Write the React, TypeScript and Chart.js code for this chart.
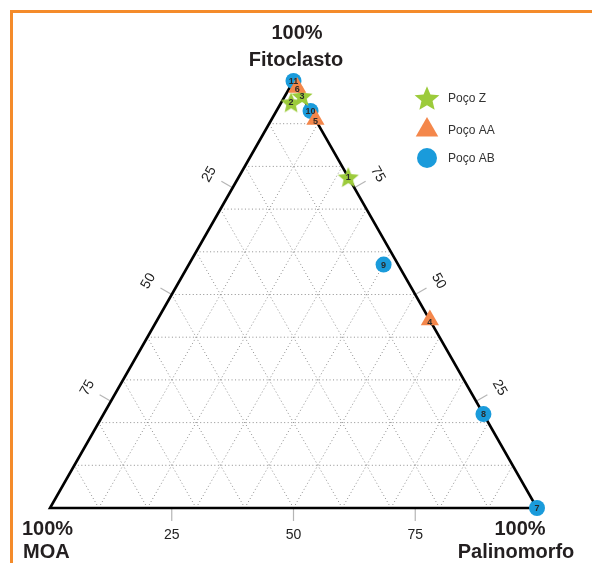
import React, { useEffect, useRef } from 'react';
import { Chart, registerables } from 'chart.js';

Chart.register(...registerables);

// ---- data (ternary percentages) ----
const wellNames = ['Poço Z', 'Poço AA', 'Poço AB'];

const zIds = ['1', '2', '3'];
const zFito = [77.5, 95, 96.5];
const zPal = [22.5, 2, 3.5];
const zMoa = [0, 3, 0];

const aaIds = ['4', '5', '6'];
const aaFito = [44, 91, 98.5];
const aaPal = [56, 9, 1.5];
const aaMoa = [0, 0, 0];

const abIds = ['7', '8', '9', '10', '11'];
const abFito = [0, 22, 57, 93, 100];
const abPal = [100, 78, 40, 7, 0];
const abMoa = [0, 0, 3, 0, 0];

const gridSteps = [10, 20, 30, 40, 50, 60, 70, 80, 90];
const tickValues = [25, 50, 75];
const cornerPercent = '100%';
const cornerTop = 'Fitoclasto';
const cornerLeft = 'MOA';
const cornerRight = 'Palinomorfo';

const GREEN = '#9CCB3B';
const ORANGE = '#F4874B';
const BLUE = '#1A9BDB';
const TEXT = '#231F20';

function toXY(fito: number[], pal: number[], moa: number[]) {
  return fito.map((f, i) => {
    const s = f + pal[i] + moa[i];
    const F = (f / s) * 100;
    const P = (pal[i] / s) * 100;
    return { x: P + F / 2, y: F };
  });
}

function makeStar(outer: number, color: string): HTMLCanvasElement {
  const c = document.createElement('canvas');
  const size = Math.ceil(outer * 2 + 2);
  c.width = size;
  c.height = size;
  const g = c.getContext('2d')!;
  const cx = size / 2;
  const cy = size / 2 + outer * 0.1;
  const inner = outer * 0.45;
  g.beginPath();
  for (let i = 0; i < 10; i++) {
    const r = i % 2 === 0 ? outer : inner;
    const a = -Math.PI / 2 + (i * Math.PI) / 5;
    const px = cx + Math.cos(a) * r;
    const py = cy + Math.sin(a) * r;
    if (i === 0) g.moveTo(px, py);
    else g.lineTo(px, py);
  }
  g.closePath();
  g.fillStyle = color;
  g.fill();
  return c;
}

const legendStar = makeStar(13, GREEN);

const ternaryPlugin = {
  id: 'ternary',
  beforeDatasetsDraw(chart: any) {
    const ctx = chart.ctx;
    const xs = chart.scales.x;
    const ys = chart.scales.y;
    const px = (F: number, P: number): [number, number] => [
      xs.getPixelForValue(P + F / 2),
      ys.getPixelForValue(F),
    ];
    ctx.save();
    // dotted grid
    ctx.strokeStyle = '#8f8f8f';
    ctx.lineWidth = 1;
    ctx.setLineDash([1, 2.5]);
    const line = (a: [number, number], b: [number, number]) => {
      ctx.beginPath();
      ctx.moveTo(a[0], a[1]);
      ctx.lineTo(b[0], b[1]);
      ctx.stroke();
    };
    gridSteps.forEach((v) => {
      line(px(v, 0), px(v, 100 - v));
      line(px(0, v), px(100 - v, v));
      line(px(0, 100 - v), px(100 - v, 0));
    });
    ctx.setLineDash([]);

    // tick marks + labels
    const tickLen = 13;
    const labDist = 27;
    ctx.strokeStyle = '#b5b5b5';
    ctx.lineWidth = 1.2;
    ctx.fillStyle = '#222';
    ctx.font = '14px "Liberation Sans", Arial, sans-serif';
    ctx.textAlign = 'center';
    ctx.textBaseline = 'middle';
    tickValues.forEach((t) => {
      // bottom: Palinomorfo
      const b = px(0, t);
      line(b, [b[0], b[1] + tickLen]);
      ctx.fillText(String(t), b[0], b[1] + labDist);
      // left: MOA
      const l = px(100 - t, 0);
      const nl = [-Math.sqrt(3) / 2, -0.5];
      line(l, [l[0] + nl[0] * tickLen, l[1] + nl[1] * tickLen]);
      ctx.save();
      ctx.translate(l[0] + nl[0] * labDist, l[1] + nl[1] * labDist);
      ctx.rotate(-Math.PI / 3);
      ctx.fillText(String(t), 0, 0);
      ctx.restore();
      // right: Fitoclasto
      const r = px(t, 100 - t);
      const nr = [Math.sqrt(3) / 2, -0.5];
      line(r, [r[0] + nr[0] * tickLen, r[1] + nr[1] * tickLen]);
      ctx.save();
      ctx.translate(r[0] + nr[0] * labDist, r[1] + nr[1] * labDist);
      ctx.rotate(Math.PI / 3);
      ctx.fillText(String(t), 0, 0);
      ctx.restore();
    });

    // triangle edges
    ctx.strokeStyle = '#000';
    ctx.lineWidth = 2.6;
    ctx.lineJoin = 'miter';
    const A = px(100, 0);
    const B = px(0, 0);
    const C = px(0, 100);
    ctx.beginPath();
    ctx.moveTo(A[0], A[1]);
    ctx.lineTo(B[0], B[1]);
    ctx.lineTo(C[0], C[1]);
    ctx.closePath();
    ctx.stroke();
    ctx.restore();
  },
  afterDatasetsDraw(chart: any) {
    const ctx = chart.ctx;
    ctx.save();
    ctx.fillStyle = '#2a2a2a';
    ctx.font = 'bold 9px "Liberation Sans", Arial, sans-serif';
    ctx.textAlign = 'center';
    ctx.textBaseline = 'middle';
    chart.data.datasets.forEach((ds: any, i: number) => {
      const meta = chart.getDatasetMeta(i);
      meta.data.forEach((el: any, j: number) => {
        const dy = ds.label === 'Poço AA' ? 2 : 0.5;
        ctx.fillText(ds.ids[j], el.x, el.y + dy);
      });
    });
    ctx.restore();
  },
  afterDraw(chart: any) {
    const ctx = chart.ctx;
    ctx.save();
    ctx.fillStyle = TEXT;
    ctx.font = 'bold 20px "Liberation Sans", Arial, sans-serif';
    ctx.textBaseline = 'alphabetic';
    ctx.textAlign = 'center';
    ctx.fillText(cornerPercent, 297, 39);
    ctx.fillText(cornerTop, 296, 66);
    ctx.textAlign = 'left';
    ctx.fillText(cornerPercent, 22, 535);
    ctx.fillText(cornerLeft, 23, 558);
    ctx.textAlign = 'center';
    ctx.fillText(cornerPercent, 520, 535);
    ctx.fillText(cornerRight, 516, 558);

    // legend
    const lx = 427;
    const rows = [98, 130, 158];
    ctx.drawImage(legendStar, lx - legendStar.width / 2, rows[0] - legendStar.height / 2);
    const tr = 13;
    ctx.fillStyle = ORANGE;
    ctx.beginPath();
    ctx.moveTo(lx, rows[1] - tr);
    ctx.lineTo(lx + tr * Math.sin((2 * Math.PI) / 3), rows[1] + tr / 2);
    ctx.lineTo(lx - tr * Math.sin((2 * Math.PI) / 3), rows[1] + tr / 2);
    ctx.closePath();
    ctx.fill();
    ctx.fillStyle = BLUE;
    ctx.beginPath();
    ctx.arc(lx, rows[2], 10, 0, Math.PI * 2);
    ctx.fill();
    ctx.fillStyle = '#333';
    ctx.font = '12px "Liberation Sans", Arial, sans-serif';
    ctx.textAlign = 'left';
    ctx.textBaseline = 'middle';
    wellNames.forEach((n, i) => ctx.fillText(n, 448, rows[i] + 1));
    ctx.restore();
  },
};

export default function App() {
  const ref = useRef<HTMLCanvasElement>(null);
  useEffect(() => {
    if (!ref.current) return;
    const star = makeStar(11, GREEN);
    const chart = new Chart(ref.current, {
      type: 'scatter',
      data: {
        datasets: [
          {
            label: wellNames[1],
            ids: aaIds,
            data: toXY(aaFito, aaPal, aaMoa),
            pointStyle: 'triangle',
            pointRadius: 10.5,
            backgroundColor: ORANGE,
            borderColor: ORANGE,
            borderWidth: 0,
            clip: false,
          } as any,
          {
            label: wellNames[0],
            ids: zIds,
            data: toXY(zFito, zPal, zMoa),
            pointStyle: star,
            pointRadius: 11,
            backgroundColor: GREEN,
            borderColor: GREEN,
            clip: false,
          } as any,
          {
            label: wellNames[2],
            ids: abIds,
            data: toXY(abFito, abPal, abMoa),
            pointStyle: 'circle',
            pointRadius: 8,
            backgroundColor: BLUE,
            borderColor: BLUE,
            borderWidth: 0,
            clip: false,
          } as any,
        ],
      },
      options: {
        responsive: false,
        animation: false,
        events: [],
        layout: { padding: { left: 50, right: 55, top: 81, bottom: 55 } },
        scales: {
          x: { type: 'linear', min: 0, max: 100, display: false },
          y: { type: 'linear', min: 0, max: 100, display: false },
        },
        plugins: {
          legend: { display: false },
          tooltip: { enabled: false },
        },
      },
      plugins: [ternaryPlugin],
    });
    return () => chart.destroy();
  }, []);

  return (
    <div
      style={{
        position: 'absolute',
        left: 0,
        top: 0,
        width: 592,
        height: 563,
        background: '#fff',
        overflow: 'hidden',
      }}
    >
      <div
        style={{
          position: 'absolute',
          left: 10,
          top: 10,
          width: 700,
          height: 700,
          borderTop: '3px solid #F48B2A',
          borderLeft: '3px solid #F48B2A',
        }}
      />
      <canvas
        ref={ref}
        width={592}
        height={563}
        style={{ position: 'absolute', left: 0, top: 0, width: 592, height: 563 }}
      />
    </div>
  );
}
